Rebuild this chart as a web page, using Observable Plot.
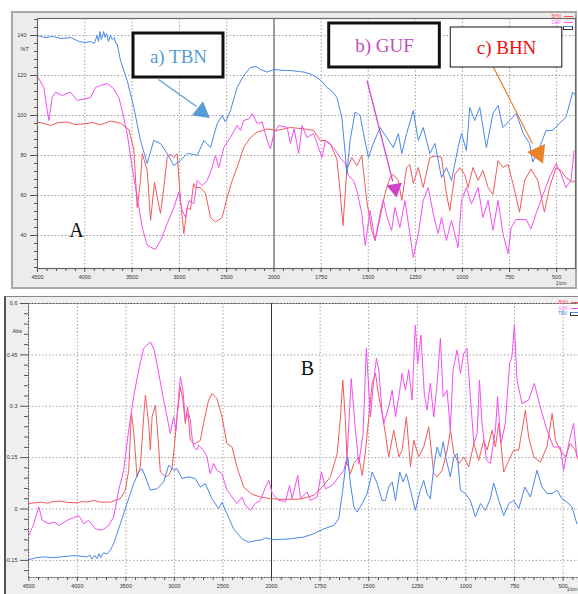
<!DOCTYPE html>
<html><head><meta charset="utf-8">
<script src="https://cdn.jsdelivr.net/npm/d3@7"></script>
<script src="https://cdn.jsdelivr.net/npm/@observablehq/plot@0.6"></script>
<style>
body{margin:0;background:#fff;overflow:hidden;font-family:"Liberation Sans",Arial,sans-serif}
#wrap{position:relative;width:578px;height:594px;overflow:hidden}
.panel{position:absolute;box-sizing:border-box}
#pa{left:11px;top:11px;width:566px;height:278px;background:#ececec;border:2px solid #a8a8a8}
#pb{left:4px;top:296px;width:580px;height:300px;background:#efefef;border-left:2px solid #555;border-top:1px solid #888}
#ca{position:absolute;left:0;top:0}
#cb{position:absolute;left:0;top:290px}
.leg{position:absolute;font-size:4.5px;line-height:4.5px;text-align:right}
.leg span{display:inline-block;width:9px;height:0;border-top:1px solid;margin-left:3px;vertical-align:middle}
</style></head><body>
<div id="wrap">
<div class="panel" id="pa"></div><div class="panel" id="pb"></div>
<div id="ca"></div><div id="cb"></div>
<div class="leg" style="left:515px;top:15px;width:58px"><div style="color:#f55">BHN<span style="border-color:#f55"></span></div><div style="color:#f5f;margin-top:1px">GUF<span style="border-color:#f5f"></span></div><div style="margin-top:1px"><span style="border:1px solid #333;width:8px;height:2px;border-top:1px solid #4a86e8"></span></div></div>
<div class="leg" style="left:518px;top:301px;width:62px"><div style="color:#f55">BHN<span style="border-color:#f55"></span></div><div style="color:#f5f;margin-top:1px">GUF<span style="border-color:#f5f"></span></div><div style="margin-top:1px;color:#4a86e8">TBN<span style="border:1px solid #333;width:8px;height:2px;border-top:1px solid #4a86e8"></span></div></div>
</div>
<script>
// ---------- tick values ----------
const xMajor = [4500, 4000, 3500, 3000, 2500, 2000, 1750, 1500, 1250, 1000, 750, 500];
const xMinor = [4400, 4300, 4200, 4100, 3900, 3800, 3700, 3600, 3400, 3300, 3200, 3100, 2900, 2800, 2700, 2600, 2400, 2300, 2200, 2100,
  1950, 1900, 1850, 1800, 1700, 1650, 1600, 1550, 1450, 1400, 1350, 1300, 1200, 1150, 1100, 1050, 950, 900, 850, 800, 700, 650, 600, 550, 450];
const yMajorA = [140, 120, 100, 80, 60, 40];
const yMinorA = [148, 144, 136, 132, 128, 124, 116, 112, 108, 104, 96, 92, 88, 84, 76, 72, 68, 64, 56, 52, 48, 44, 36, 32, 28, 24];
const yMajorB = [0.6, 0.45, 0.3, 0.15, 0, -0.15];
const yMinorB = [0.57, 0.54, 0.51, 0.48, 0.42, 0.39, 0.36, 0.33, 0.27, 0.24, 0.21, 0.18, 0.12, 0.09, 0.06, 0.03, -0.03, -0.06, -0.09, -0.12, -0.18];

// ---------- Panel A: %T spectra [wavenumber, %T] ----------
const A_TBN = [[4500,140],[4420,139],[4340,139.5],[4250,138.5],[4150,139],[4060,137],[3990,136.5],[3940,137],[3900,136],[3870,140],[3855,137],[3840,142],[3825,138],[3800,142],[3785,139],[3770,141],[3750,137],[3730,140],[3710,138],[3690,139],[3670,136],[3658,135.8],[3623,127.5],[3552,117.5],[3482,104],[3411,87.5],[3340,76],[3271,87.5],[3200,86],[3129,81],[3059,75],[2988,77.5],[2918,81],[2850,80.5],[2812,80],[2742,87.5],[2671,84],[2600,96],[2548,100],[2513,96.7],[2460,102.5],[2390,114],[2320,120],[2249,124],[2190,124.5],[2143,123],[2072,121.7],[2002,123],[1950,122.5],[1913,122.5],[1870,122],[1840,121.7],[1800,120.5],[1772,119],[1745,117],[1719,114],[1690,112],[1666,109],[1640,99],[1622,81],[1613,71],[1596,87.5],[1570,101.7],[1543,100],[1525,91],[1499,79],[1473,86],[1437,94],[1402,89],[1367,84],[1340,91],[1322,81],[1296,91],[1261,102.5],[1234,87.5],[1208,94],[1173,81],[1146,86],[1111,69],[1085,74],[1058,67.5],[1023,84],[1005,91],[979,82.5],[961,104],[935,97.5],[908,104],[873,84],[838,101],[811,105],[785,94],[750,97.5],[715,101],[677,91],[644,86],[627,76.7],[591,84],[556,92.5],[521,92.5],[486,96],[451,99],[415,111.7],[398,110]];
const A_GUF = [[4500,119.5],[4433,114],[4397,102.5],[4380,97.5],[4345,109],[4310,111.7],[4239,110],[4151,111.7],[4080,107.5],[4010,108.3],[3940,109],[3887,114],[3834,115],[3763,116],[3693,113.3],[3640,109],[3605,102.5],[3552,91],[3499,74],[3446,59],[3393,44],[3340,35],[3253,33],[3200,37.5],[3129,46],[3059,54],[3006,61.7],[2971,52.5],[2935,49],[2900,57.5],[2847,56],[2812,67.5],[2759,65],[2706,67.5],[2654,74],[2619,80],[2583,74],[2530,84],[2460,89],[2390,95],[2354,92.5],[2320,97.5],[2267,98.3],[2230,101],[2178,96],[2125,96.7],[2072,87.5],[2037,83.3],[2002,91],[1975,95],[1930,94],[1913,86],[1893,93.3],[1869,81],[1851,95],[1825,89],[1790,91],[1745,79],[1728,87.5],[1684,84],[1649,79],[1622,76],[1605,70],[1578,67.5],[1560,62.5],[1534,51],[1516,35],[1490,52.5],[1464,37.5],[1437,51],[1420,58],[1402,50],[1376,42.5],[1358,54],[1332,44],[1305,57.5],[1279,41],[1261,29],[1234,41],[1208,57.5],[1182,64],[1155,51],[1129,41],[1111,49],[1085,37.5],[1058,47.5],[1023,34],[1005,57.5],[979,64],[952,55.8],[917,64],[891,49],[864,57.5],[838,42.5],[811,57.5],[785,41],[758,31],[741,44],[715,48],[662,48],[636,43.3],[609,51],[574,60],[538,69],[503,76],[477,71],[451,64],[424,67.5],[407,82.5]];
const A_BHN = [[4500,96.7],[4430,96],[4363,95],[4280,96.5],[4186,96.7],[4100,95.5],[4010,95.8],[3920,96.5],[3834,95.3],[3728,97.2],[3623,96.2],[3535,93],[3482,83.3],[3446,54],[3411,67.5],[3393,81],[3340,72.5],[3305,47.5],[3263,66.7],[3228,57.5],[3200,51],[3165,64],[3129,79],[3094,80.8],[3059,79],[3024,80.8],[2988,57.5],[2953,41],[2918,54],[2883,53],[2850,66],[2830,64],[2777,64],[2724,61],[2671,49],[2619,46.7],[2548,49],[2495,59],[2442,67.5],[2390,74],[2320,84],[2249,89],[2178,91.7],[2072,93.3],[1983,92.5],[1913,94],[1840,93.3],[1790,92.5],[1754,87.5],[1728,87.5],[1701,86],[1666,78],[1649,61.7],[1634,45],[1613,73],[1587,79],[1560,75],[1534,80],[1508,57.5],[1481,42.5],[1464,37.5],[1437,49],[1411,61],[1384,69],[1367,70.5],[1340,67.5],[1322,57.5],[1296,74],[1279,75.5],[1261,66],[1234,74],[1208,64],[1173,79],[1137,79.8],[1111,79],[1085,60.5],[1067,52.5],[1040,70.5],[1014,74],[988,70.5],[970,64],[944,74],[917,67.5],[891,72.5],[864,64],[838,60.5],[811,77.5],[785,74],[758,75.5],[732,66],[697,51.7],[670,67.5],[636,73.3],[600,67.5],[565,51.7],[538,64],[503,74],[477,72.5],[451,69],[415,66.7],[398,67.5]];

// ---------- Panel B: Abs spectra [wavenumber, Abs] ----------
const B_TBN = [[4500,-0.148],[4420,-0.142],[4346,-0.14],[4260,-0.142],[4174,-0.14],[4100,-0.138],[4037,-0.136],[3960,-0.138],[3899,-0.14],[3870,-0.134],[3850,-0.146],[3820,-0.136],[3797,-0.145],[3775,-0.13],[3760,-0.142],[3730,-0.128],[3694,-0.131],[3660,-0.12],[3626,-0.101],[3557,-0.043],[3488,0.016],[3420,0.074],[3368,0.108],[3334,0.118],[3299,0.094],[3248,0.055],[3179,0.059],[3111,0.079],[3059,0.128],[3008,0.113],[2973,0.118],[2922,0.089],[2854,0.094],[2785,0.089],[2734,0.064],[2682,0.074],[2613,0.03],[2545,0.001],[2510,0.02],[2459,-0.014],[2390,-0.058],[2304,-0.087],[2236,-0.097],[2150,-0.092],[2100,-0.09],[2062,-0.084],[1988,-0.09],[1902,-0.087],[1834,-0.082],[1782,-0.072],[1731,-0.058],[1679,-0.048],[1654,-0.028],[1636,0.045],[1619,0.123],[1607,0.152],[1594,0.074],[1576,0.006],[1559,-0.009],[1534,0.016],[1508,0.045],[1482,0.108],[1456,0.074],[1431,0.025],[1414,0.025],[1397,0.064],[1379,0.079],[1362,0.025],[1340,0.108],[1323,0.079],[1306,0.103],[1285,0.055],[1260,-0.004],[1237,0.05],[1217,0.084],[1200,0.045],[1183,0.03],[1165,0.123],[1148,0.181],[1131,0.152],[1117,0.196],[1100,0.142],[1080,0.094],[1062,0.152],[1045,0.162],[1028,0.055],[1002,0.045],[977,0.025],[951,-0.023],[925,0.016],[900,-0.004],[874,0.03],[857,0.076],[831,0.025],[805,-0.019],[779,0.016],[754,0.025],[728,0.001],[697,0.064],[668,0.035],[634,0.113],[608,0.064],[583,0.045],[557,0.045],[531,0.055],[506,0.03],[480,0.02],[454,0.006],[429,-0.043]];
const B_GUF = [[4500,-0.077],[4448,-0.043],[4397,0.006],[4362,-0.033],[4294,-0.043],[4240,-0.038],[4191,-0.048],[4105,-0.033],[3986,-0.019],[3934,-0.043],[3883,-0.033],[3814,-0.058],[3745,-0.062],[3677,-0.048],[3626,-0.023],[3574,0.055],[3523,0.113],[3471,0.23],[3420,0.328],[3368,0.406],[3317,0.469],[3248,0.488],[3207,0.464],[3162,0.396],[3111,0.318],[3076,0.269],[3042,0.22],[3008,0.269],[2984,0.23],[2957,0.328],[2939,0.386],[2912,0.347],[2888,0.259],[2854,0.279],[2836,0.26],[2819,0.21],[2802,0.181],[2768,0.172],[2751,0.186],[2734,0.181],[2700,0.172],[2665,0.152],[2631,0.103],[2596,0.133],[2562,0.113],[2510,0.103],[2459,0.055],[2407,0.035],[2356,0.016],[2304,0.035],[2270,0.011],[2218,-0.004],[2167,0.016],[2115,0.025],[2062,0.064],[2028,0.084],[1996,0.045],[1962,0.025],[1928,0.022],[1907,0.069],[1894,0.03],[1865,0.098],[1851,0.03],[1816,0.05],[1800,0.025],[1765,0.035],[1743,0.108],[1722,0.059],[1688,0.069],[1654,0.094],[1628,0.113],[1611,0.152],[1590,0.381],[1568,0.23],[1551,0.133],[1529,0.22],[1512,0.469],[1491,0.269],[1474,0.376],[1460,0.44],[1448,0.406],[1431,0.28],[1422,0.25],[1397,0.298],[1379,0.347],[1362,0.269],[1345,0.328],[1328,0.396],[1311,0.347],[1294,0.406],[1277,0.318],[1260,0.537],[1248,0.425],[1231,0.508],[1214,0.337],[1200,0.289],[1183,0.367],[1165,0.269],[1148,0.367],[1131,0.498],[1117,0.328],[1097,0.347],[1080,0.23],[1066,0.406],[1045,0.464],[1028,0.396],[1011,0.454],[994,0.469],[977,0.328],[959,0.191],[942,0.22],[930,0.376],[917,0.25],[894,0.142],[874,0.133],[848,0.23],[837,0.328],[819,0.191],[797,0.25],[775,0.425],[763,0.445],[750,0.537],[737,0.376],[711,0.308],[677,0.318],[648,0.367],[617,0.298],[583,0.23],[549,0.181],[514,0.181],[497,0.113],[471,0.191],[446,0.25],[429,0.152]];
const B_BHN = [[4500,0.016],[4440,0.018],[4380,0.02],[4300,0.017],[4250,0.022],[4174,0.023],[4100,0.019],[4002,0.018],[3950,0.022],[3900,0.02],[3831,0.025],[3760,0.02],[3660,0.02],[3557,0.03],[3505,0.055],[3471,0.113],[3443,0.279],[3420,0.23],[3385,0.094],[3351,0.123],[3317,0.269],[3299,0.332],[3265,0.25],[3248,0.172],[3230,0.269],[3196,0.303],[3172,0.22],[3145,0.108],[3093,0.094],[3059,0.098],[3025,0.118],[3001,0.181],[2973,0.269],[2939,0.357],[2912,0.318],[2888,0.25],[2864,0.298],[2836,0.2],[2802,0.191],[2785,0.191],[2734,0.2],[2700,0.25],[2648,0.318],[2613,0.337],[2562,0.323],[2510,0.269],[2459,0.191],[2407,0.181],[2356,0.123],[2287,0.064],[2201,0.043],[2114,0.035],[2010,0.03],[1937,0.028],[1851,0.029],[1782,0.04],[1739,0.064],[1697,0.094],[1662,0.162],[1645,0.269],[1633,0.376],[1619,0.25],[1611,0.133],[1594,0.103],[1576,0.133],[1551,0.152],[1533,0.098],[1516,0.172],[1499,0.269],[1482,0.367],[1465,0.396],[1448,0.328],[1431,0.279],[1414,0.22],[1397,0.152],[1371,0.23],[1345,0.152],[1328,0.172],[1306,0.269],[1285,0.123],[1268,0.201],[1243,0.152],[1217,0.181],[1191,0.24],[1165,0.103],[1148,0.094],[1122,0.113],[1096,0.172],[1079,0.23],[1062,0.162],[1036,0.133],[1011,0.152],[985,0.123],[959,0.191],[934,0.142],[908,0.2],[891,0.172],[865,0.23],[848,0.181],[831,0.25],[805,0.108],[779,0.142],[754,0.172],[728,0.172],[711,0.23],[694,0.289],[677,0.21],[651,0.152],[617,0.137],[583,0.181],[556,0.279],[539,0.2],[514,0.172],[488,0.152],[463,0.191],[437,0.172],[421,0.142]];

// ---------- annotations (data coordinates of panel A) ----------
const boxes = [
  {label: "a) TBN", x1: 3485, x2: 2534, y1: 141, y2: 119, tx: 3010, ty: 129.5, color: "#5b9bd5", sw: 3},
  {label: "b) GUF", x1: 1707, x2: 1120, y1: 146, y2: 124, tx: 1414, ty: 135, color: "#c04fc0", sw: 3},
  {label: "c) BHN", x1: 1062, x2: 470, y1: 144, y2: 124, tx: 766, ty: 134, color: "#f01010", sw: 1}
];
const arrows = [
  {x1: 3221, y1: 118, x2: 2819, y2: 104.5, hx: 2766, hy: 102, rot: 8, size: 6.7, color: "#5b9bd5"},
  {x1: 1506, y1: 117.5, x2: 1370, y2: 67, hx: 1358, hy: 63.5, rot: 170, size: 5.8, color: "#cc44cc"},
  {x1: 840, y1: 125, x2: 629, y2: 86, hx: 597, hy: 81.1, rot: 276, size: 7.3, color: "#e8822a"}
];

const toObj = arr => arr.map(([wn, v]) => ({wn, v}));
const serif = "'Liberation Serif','Times New Roman',serif";
const sans = "'Liberation Sans',Arial,sans-serif";

function spectraMarks(tbn, guf, bhn) {
  return [
    Plot.line(toObj(bhn), {x: "wn", y: "v", stroke: "#f25a5a", strokeWidth: 1}),
    Plot.line(toObj(guf), {x: "wn", y: "v", stroke: "#f24ef2", strokeWidth: 1}),
    Plot.line(toObj(tbn), {x: "wn", y: "v", stroke: "#4a86e8", strokeWidth: 1})
  ];
}

const plotA = Plot.plot({
  width: 578, height: 290,
  marginLeft: 37, marginRight: 3, marginTop: 18, marginBottom: 22,
  style: {background: "transparent", fontFamily: sans, fontSize: "5.5px", color: "#333"},
  x: {type: "linear", domain: [4500, 2000, 400], range: [37, 273.5, 575], label: null},
  y: {domain: [23.5, 148.5], label: null},
  marks: [
    Plot.frame({fill: "white"}),
    Plot.gridX(xMajor, {stroke: "#999", strokeOpacity: 0.9, strokeDasharray: "1.5,2"}),
    Plot.gridY(yMajorA, {stroke: "#999", strokeOpacity: 0.9, strokeDasharray: "1.5,2"}),
    Plot.ruleX([2000], {stroke: "#8a8a8a", strokeWidth: 1.6}),
    ...spectraMarks(A_TBN, A_GUF, A_BHN),
    Plot.frame({stroke: "#6a6a6a", strokeWidth: 1.2}),
    Plot.axisX(xMajor, {tickSize: 4, tickPadding: 3, tickFormat: d => String(d), stroke: "#555"}),
    Plot.axisX(xMinor, {tickSize: 3, tickFormat: () => "", stroke: "#555"}),
    Plot.axisY(yMajorA, {tickSize: 7, tickPadding: 4, tickFormat: d => String(d), stroke: "#555"}),
    Plot.axisY(yMinorA, {tickSize: 3, tickFormat: () => "", stroke: "#555"}),
    Plot.text(["%T"], {frameAnchor: "top-left", dx: -17, dy: 29, fontSize: 5.5, fill: "#333"}),
    Plot.text(["1/cm"], {frameAnchor: "bottom-right", dx: -9, dy: 16, fontSize: 5, fill: "#333"}),
    Plot.text(["A"], {x: () => 4088, y: () => 42.5, fontFamily: serif, fontSize: 20, fill: "#111"}),
    Plot.link(arrows, {x1: "x1", y1: "y1", x2: "x2", y2: "y2", stroke: "color", strokeWidth: 1.2}),
    ...arrows.map(a => Plot.dot([a], {x: "hx", y: "hy", symbol: "triangle", r: a.size, fill: a.color, stroke: "none", rotate: a.rot})),
    Plot.rect(boxes, {x1: "x1", x2: "x2", y1: "y1", y2: "y2", fill: "white", stroke: "#111", strokeWidth: "sw"}),
    Plot.text(boxes, {x: "tx", y: "ty", text: "label", fill: "color", fontFamily: serif, fontSize: 19})
  ]
});
document.getElementById("ca").append(plotA);

const plotB = Plot.plot({
  width: 578, height: 304,
  marginLeft: 28, marginRight: 0, marginTop: 13, marginBottom: 17,
  style: {background: "transparent", fontFamily: sans, fontSize: "5.5px", color: "#333"},
  x: {type: "linear", domain: [4500, 2000, 400], range: [28.3, 271, 582], label: null},
  y: {domain: [-0.2, 0.6], label: null},
  marks: [
    Plot.frame({fill: "white"}),
    Plot.gridX(xMajor, {stroke: "#999", strokeOpacity: 0.9, strokeDasharray: "1.5,2"}),
    Plot.gridY(yMajorB, {stroke: "#999", strokeOpacity: 0.9, strokeDasharray: "1.5,2"}),
    Plot.ruleX([2000], {stroke: "#333", strokeWidth: 1}),
    ...spectraMarks(B_TBN, B_GUF, B_BHN),
    Plot.frame({stroke: "#555", strokeWidth: 1, strokeDasharray: "2,1"}),
    Plot.axisX(xMajor, {tickSize: 4, tickPadding: 3, tickFormat: d => String(d), stroke: "#555"}),
    Plot.axisX(xMinor, {tickSize: 3, tickFormat: () => "", stroke: "#555"}),
    Plot.axisY(yMajorB, {tickSize: 8, tickPadding: 3, tickFormat: d => String(d), stroke: "#555"}),
    Plot.axisY(yMinorB, {tickSize: 4, tickFormat: () => "", stroke: "#555"}),
    Plot.text(["Abs"], {frameAnchor: "top-left", dx: -16, dy: 26, fontSize: 5.5, fill: "#333"}),
    Plot.text(["1/cm"], {frameAnchor: "bottom-right", dx: -1, dy: 13, textAnchor: "end", fontSize: 5, fill: "#333"}),
    Plot.text(["B"], {x: () => 1815, y: () => 0.411, fontFamily: serif, fontSize: 20, fill: "#111"})
  ]
});
document.getElementById("cb").append(plotB);
</script>
</body></html>
